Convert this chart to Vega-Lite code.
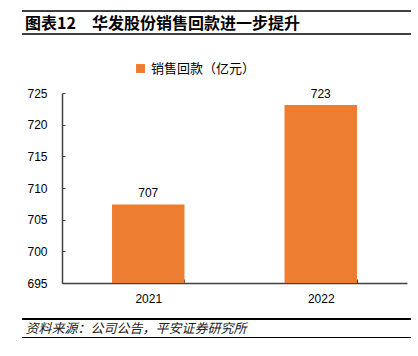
{
  "$schema": "https://vega.github.io/schema/vega-lite/v6.json",
  "width": 345,
  "height": 190,
  "autosize": {"type": "none"},
  "padding": {"left": 62, "top": 93, "right": 11, "bottom": 73},
  "background": "white",
  "config": {
    "font": "Noto Sans CJK SC",
    "view": {"stroke": null},
    "axisY": {"labelOverlap": false}
  },
  "title": {
    "text": "图表12\u3000华发股份销售回款进一步提升",
    "anchor": "start",
    "dx": 3,
    "dy": 22,
    "offset": 0,
    "fontSize": 16,
    "fontWeight": "bold",
    "color": "#000000",
    "font": "Noto Sans CJK SC"
  },
  "data": {
    "values": [
      {"year": "2021", "value": 707.4, "series": "销售回款（亿元）"},
      {"year": "2022", "value": 723.1, "series": "销售回款（亿元）"}
    ]
  },
  "layer": [
    {
      "data": {"values": [{}]},
      "mark": {"type": "rect", "color": "#404040"},
      "encoding": {"x": {"value": -40}, "x2": {"value": 349}, "y": {"value": -83}, "y2": {"value": -81}}
    },
    {
      "data": {"values": [{}]},
      "mark": {"type": "rect", "color": "#404040"},
      "encoding": {"x": {"value": -40}, "x2": {"value": 349}, "y": {"value": -60}, "y2": {"value": -58}}
    },
    {
      "data": {"values": [{}]},
      "mark": {"type": "rect", "color": "#000000"},
      "encoding": {"x": {"value": -40}, "x2": {"value": 349}, "y": {"value": 225}, "y2": {"value": 227}}
    },
    {
      "data": {"values": [{}]},
      "mark": {"type": "rect", "color": "#000000"},
      "encoding": {"x": {"value": -40}, "x2": {"value": 349}, "y": {"value": 244}, "y2": {"value": 245}}
    },
    {
      "mark": {"type": "bar", "color": "#ED7D31"},
      "encoding": {
        "x": {
          "field": "year",
          "type": "nominal",
          "scale": {"paddingInner": 0.58, "paddingOuter": 0.29},
          "axis": {
            "title": "资料来源：公司公告，平安证券研究所",
            "titleFont": "Noto Sans CJK SC",
            "titleFontStyle": "italic",
            "titleFontWeight": "normal",
            "titleFontSize": 13,
            "titleColor": "#222222",
            "titleAnchor": "start",
            "titleAlign": "left",
            "titleX": -37,
            "titleY": 45,
            "titleBaseline": "middle",
            "labelAngle": 0,
            "labelFontSize": 12,
            "labelColor": "#000000",
            "labelFont": "Liberation Sans",
            "labelPadding": 14,
            "tickBand": "extent",
            "tickSize": -4,
            "tickColor": "#404040",
            "domainColor": "#404040",
            "domainWidth": 1.5
          }
        },
        "y": {
          "field": "value",
          "type": "quantitative",
          "scale": {"domain": [695, 725], "zero": false, "nice": false, "clamp": true},
          "axis": {
            "title": null,
            "values": [695, 700, 705, 710, 715, 720, 725],
            "labelOverlap": false,
            "grid": false,
            "labelFontSize": 12,
            "labelColor": "#000000",
            "labelFont": "Liberation Sans",
            "labelPadding": 18,
            "tickSize": -3,
            "tickColor": "#404040",
            "domainColor": "#404040",
            "domainWidth": 1.5
          }
        },
        "fill": {
          "field": "series",
          "type": "nominal",
          "scale": {"range": ["#ED7D31"]},
          "legend": {
            "title": null,
            "orient": "none",
            "legendX": 72,
            "legendY": -31,
            "symbolType": "square",
            "symbolSize": 80,
            "labelFontSize": 13,
            "labelFont": "Noto Sans CJK SC",
            "labelColor": "#000000",
            "symbolStrokeWidth": 0
          }
        }
      }
    },
    {
      "mark": {"type": "text", "dy": -11, "fontSize": 12, "font": "Liberation Sans", "color": "#000000"},
      "encoding": {
        "x": {"field": "year", "type": "nominal"},
        "y": {
          "field": "value",
          "type": "quantitative",
          "scale": {"domain": [695, 725], "zero": false, "nice": false, "clamp": true},
          "axis": {
            "title": null,
            "values": [695, 700, 705, 710, 715, 720, 725],
            "labelOverlap": false,
            "grid": false,
            "labelFontSize": 12,
            "labelColor": "#000000",
            "labelFont": "Liberation Sans",
            "labelPadding": 18,
            "tickSize": -3,
            "tickColor": "#404040",
            "domainColor": "#404040",
            "domainWidth": 1.5
          }
        },
        "text": {"field": "value", "type": "quantitative", "format": ".0f"}
      }
    }
  ]
}
